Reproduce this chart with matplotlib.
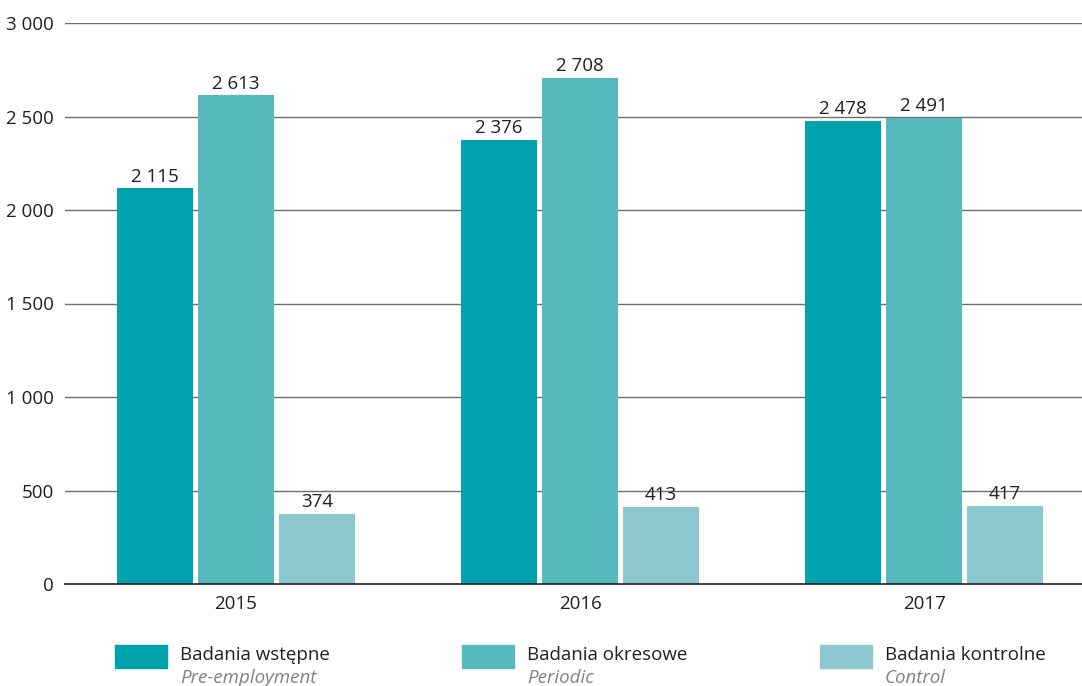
import numpy as np
import matplotlib
matplotlib.use("Agg")
import matplotlib.pyplot as plt
from matplotlib import font_manager
from matplotlib.patches import Rectangle

# font: narrow sans if we have it
names = set(f.name for f in font_manager.fontManager.ttflist)
fam = "Liberation Sans Narrow" if "Liberation Sans Narrow" in names else "Open Sans"
plt.rcParams['font.family'] = [fam, 'DejaVu Sans']

years = ["2015", "2016", "2017"]
wstepne = [2115, 2376, 2478]
okresowe = [2613, 2708, 2491]
kontrolne = [374, 413, 417]
series_pl = ["Badania wstępne", "Badania okresowe", "Badania kontrolne"]
series_en = ["Pre-employment", "Periodic", "Control"]
colors = ["#00a3ad", "#55b9be", "#8cc7cf"]
yticks = [0, 500, 1000, 1500, 2000, 2500, 3000]

def fmt(v):
    return "{:,}".format(v).replace(",", " ")

fig = plt.figure(figsize=(10.82, 6.86), dpi=100)
ax = fig.add_axes([65/1082, 1-584/686, 1-65/1082, (584-23)/686])

x = np.arange(len(years))
w = 0.221
off = 0.2355
for i, vals in enumerate([wstepne, okresowe, kontrolne]):
    pos = x + (i-1)*off
    ax.bar(pos, vals, width=w, color=colors[i], zorder=2)
    for p, v in zip(pos, vals):
        ax.annotate(fmt(v), (p, v), xytext=(0, 2), textcoords="offset points",
                    ha="center", va="bottom", fontsize=13.5, color="#231f20")

ax.set_xlim(-0.497, 2.459)
ax.set_ylim(0, 3000)
ax.set_yticks(yticks)
ax.set_yticklabels([fmt(t) for t in yticks])
ax.set_xticks(x)
ax.set_xticklabels(years)
ax.tick_params(axis="both", length=0, labelsize=13.5, colors="#231f20")
ax.tick_params(axis="y", pad=8)
ax.tick_params(axis="x", pad=8)
for t in yticks[1:]:
    ax.axhline(t, color="#6d6e71", lw=1.0, zorder=1)
for s in ["top", "right", "left"]:
    ax.spines[s].set_visible(False)
ax.spines["bottom"].set_color("#231f20")
ax.spines["bottom"].set_linewidth(1.2)
ax.spines["bottom"].set_zorder(3)

# legend by hand, under the axis
leg_x = [115, 462, 820]
for i in range(3):
    x0 = leg_x[i] / 1082
    fig.patches.append(Rectangle((x0, 1-668/686), 52/1082, 23/686,
                                 transform=fig.transFigure, color=colors[i]))
    fig.text(x0 + 65/1082, 1-655/686, series_pl[i], fontsize=13.5,
             color="#231f20", va="center")
    fig.text(x0 + 65/1082, 1-678/686, series_en[i], fontsize=13.5,
             color="#808285", style="italic", va="center")

fig.savefig("out.png", dpi=100)
